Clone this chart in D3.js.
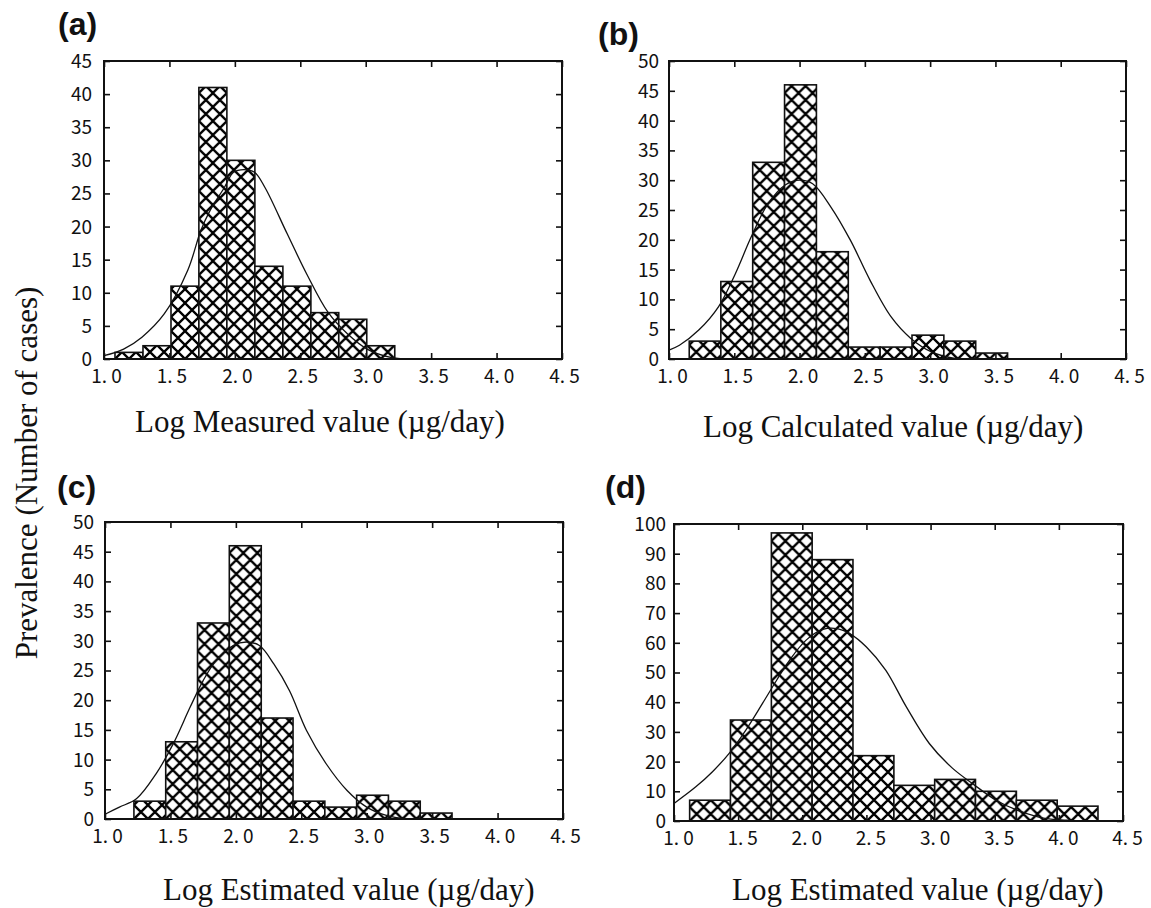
<!DOCTYPE html>
<html><head><meta charset="utf-8">
<script src="https://cdn.jsdelivr.net/npm/d3@7"></script>
<style>body{margin:0;background:#fff} svg{display:block}</style>
</head><body>
<svg id="chart" width="1151" height="908"></svg>
<script>
// ---------- data ----------
const xTicks = [1.0, 1.5, 2.0, 2.5, 3.0, 3.5, 4.0, 4.5];

const edgesA  = [1.084, 1.298, 1.512, 1.725, 1.939, 2.153, 2.367, 2.581, 2.794, 3.008, 3.222];
const countsA = [1, 2, 11, 41, 30, 14, 11, 7, 6, 2];
const curveA  = [[1.0,0.5],[1.15,1.5],[1.29,3.3],[1.46,6.8],[1.64,13.4],[1.74,19.4],[1.81,22.4],[1.92,25.9],[1.99,28.2],[2.07,28.6],[2.15,28.2],[2.23,25.9],[2.40,18.9],[2.55,12.8],[2.71,7.1],[2.86,3.8],[3.01,1.5],[3.19,0.25],[3.32,0]];
const yTicksA = [0, 5, 10, 15, 20, 25, 30, 35, 40, 45];

const edgesB  = [1.155, 1.397, 1.641, 1.885, 2.129, 2.373, 2.617, 2.861, 3.105, 3.349, 3.593];
const countsB = [3, 13, 33, 46, 18, 2, 2, 4, 3, 1];
const curveB  = [[1.0,1.5],[1.08,2.3],[1.23,4.9],[1.38,8.8],[1.51,14.4],[1.63,20.5],[1.76,26.1],[1.89,29.2],[2.0,30.0],[2.1,29.4],[2.24,25.5],[2.39,19.9],[2.54,13.2],[2.70,7.1],[2.85,3.5],[3.01,1.2],[3.19,0.1],[3.37,0]];
const yTicksB = [0, 5, 10, 15, 20, 25, 30, 35, 40, 45, 50];

const edgesC  = [1.221, 1.464, 1.707, 1.950, 2.194, 2.437, 2.680, 2.923, 3.166, 3.409, 3.652];
const countsC = [3, 13, 33, 46, 17, 3, 2, 4, 3, 1];
const curveC  = [[1.0,0.8],[1.11,2.0],[1.24,3.4],[1.39,7.6],[1.52,12.6],[1.65,18.8],[1.75,23.3],[1.85,26.7],[1.98,29.2],[2.08,29.8],[2.18,29.2],[2.29,26.1],[2.41,21.6],[2.54,14.9],[2.69,9.3],[2.85,4.8],[3.0,2.0],[3.15,0.6],[3.30,0.05],[3.43,0]];
const yTicksC = [0, 5, 10, 15, 20, 25, 30, 35, 40, 45, 50];

const edgesD  = [1.122, 1.440, 1.759, 2.077, 2.395, 2.714, 3.032, 3.350, 3.669, 3.987, 4.305];
const countsD = [7, 34, 97, 88, 22, 12, 14, 10, 7, 5];
const curveD  = [[1.0,5.9],[1.17,11.5],[1.30,16.6],[1.43,22.8],[1.56,30.6],[1.69,39.6],[1.80,47.4],[1.90,54.1],[2.03,60.9],[2.16,64.5],[2.27,64.8],[2.37,63.1],[2.50,58.6],[2.65,50.8],[2.81,38.5],[2.99,26.1],[3.17,17.8],[3.33,12.5],[3.51,7.0],[3.69,3.4],[3.88,1.0],[4.06,0.3],[4.21,0]];
const yTicksD = [0, 10, 20, 30, 40, 50, 60, 70, 80, 90, 100];

const panelLabels = ["(a)", "(b)", "(c)", "(d)"];
const xTitles = ["Log Measured value (\u00b5g/day)", "Log Calculated value (\u00b5g/day)",
                 "Log Estimated value (\u00b5g/day)", "Log Estimated value (\u00b5g/day)"];
const yTitle = "Prevalence (Number of cases)";

// ---------- layout ----------
const panels = [
  {edges: edgesA, counts: countsA, curve: curveA, yTicks: yTicksA,
   box: {l:104, r:562, t:61, b:359}, lab:[58,35], tit:[135,432], gap:12, xdx:2},
  {edges: edgesB, counts: countsB, curve: curveB, yTicks: yTicksB,
   box: {l:669, r:1126, t:61, b:359}, lab:[598,45], tit:[703,437], gap:10, xdx:3},
  {edges: edgesC, counts: countsC, curve: curveC, yTicks: yTicksC,
   box: {l:105, r:563, t:522, b:819}, lab:[57,498], tit:[163,900], gap:11, xdx:2},
  {edges: edgesD, counts: countsD, curve: curveD, yTicks: yTicksD,
   box: {l:674, r:1123, t:524, b:821}, lab:[605,498], tit:[732,900], gap:8, xdx:4}
];

const svg = d3.select("#chart");
const defs = svg.append("defs");
const S = 14;
const tickFont = "'Liberation Sans Narrow', 'Noto Sans CJK JP', sans-serif";

panels.forEach((p, pi) => {
  const B = p.box;
  const x = d3.scaleLinear().domain([1.0, 4.5]).range([B.l, B.r]);
  const yMax = p.yTicks[p.yTicks.length - 1];
  const y = d3.scaleLinear().domain([0, yMax]).range([B.b, B.t]);
  const g = svg.append("g");

  const bins = p.counts.map((c, i) => ({x0: p.edges[i], x1: p.edges[i + 1], c, id: `h${pi}_${i}`}));

  // hatch patterns (aligned to each bar)
  const pats = defs.selectAll(null).data(bins).join("pattern")
    .attr("id", d => d.id)
    .attr("patternUnits", "userSpaceOnUse")
    .attr("x", d => x(d.x0)).attr("y", y(0))
    .attr("width", S).attr("height", S);
  pats.append("rect").attr("width", S).attr("height", S).attr("fill", "#fff");
  pats.append("path")
    .attr("d", `M0,0L${S},${S}M0,${S}L${S},0`)
    .attr("stroke", "#000").attr("stroke-width", 2.3).attr("fill", "none");

  g.selectAll("rect.bar").data(bins).join("rect")
    .attr("class", "bar")
    .attr("x", d => x(d.x0)).attr("y", d => y(d.c))
    .attr("width", d => x(d.x1) - x(d.x0))
    .attr("height", d => y(0) - y(d.c))
    .attr("fill", d => `url(#${d.id})`)
    .attr("stroke", "#111").attr("stroke-width", 1.6);

  // fitted curve
  g.append("path").datum(p.curve)
    .attr("d", d3.line().x(d => x(d[0])).y(d => y(d[1])).curve(d3.curveCatmullRom))
    .attr("fill", "none").attr("stroke", "#111").attr("stroke-width", 1.3);

  // axes (ticks inward on all four sides)
  const styleAxis = sel => {
    sel.select(".domain").remove();
    sel.selectAll(".tick line").attr("stroke", "#111").attr("stroke-width", 1.6);
  };
  g.append("g").attr("transform", `translate(0,${B.b})`)
    .call(d3.axisBottom(x).tickValues(xTicks).tickSizeInner(-6).tickSizeOuter(0).tickFormat(d3.format(".1f")))
    .call(styleAxis)
    .call(a => a.selectAll("text")
      .attr("y", 24).attr("dy", 0).attr("dx", p.xdx)
      .attr("font-family", tickFont).attr("font-size", 19).attr("fill", "#111")
      .each(function(d) {
        const s = d3.format(".1f")(d);
        const t = d3.select(this);
        t.text(s.slice(0, 2));
        t.append("tspan").attr("dx", 4).text(s.slice(2));
      }));
  g.append("g").attr("transform", `translate(0,${B.t})`)
    .call(d3.axisTop(x).tickValues(xTicks).tickSizeInner(-6).tickSizeOuter(0).tickFormat(""))
    .call(styleAxis);
  g.append("g").attr("transform", `translate(${B.l},0)`)
    .call(d3.axisLeft(y).tickValues(p.yTicks).tickSizeInner(-6).tickSizeOuter(0).tickFormat(d3.format("d")))
    .call(styleAxis)
    .call(a => a.selectAll("text")
      .attr("x", -p.gap).attr("dy", "0.34em")
      .attr("font-family", tickFont).attr("font-size", 19).attr("fill", "#111"));
  g.append("g").attr("transform", `translate(${B.r},0)`)
    .call(d3.axisRight(y).tickValues(p.yTicks).tickSizeInner(-6).tickSizeOuter(0).tickFormat(""))
    .call(styleAxis);

  // frame
  g.append("rect").attr("x", B.l).attr("y", B.t)
    .attr("width", B.r - B.l).attr("height", B.b - B.t)
    .attr("fill", "none").attr("stroke", "#111").attr("stroke-width", 2);

  // panel label
  svg.append("text").attr("x", p.lab[0]).attr("y", p.lab[1])
    .attr("font-family", "'Liberation Sans', Arial, sans-serif").attr("font-weight", "bold")
    .attr("font-size", 32).attr("fill", "#111").text(panelLabels[pi]);

  // x title
  svg.append("text").attr("x", p.tit[0]).attr("y", p.tit[1])
    .attr("font-family", "'Liberation Serif', 'Times New Roman', serif")
    .attr("font-size", 31).attr("fill", "#111").text(xTitles[pi]);
});

svg.append("text")
  .attr("transform", "translate(37,473) rotate(-90)")
  .attr("text-anchor", "middle")
  .attr("font-family", "'Liberation Serif', 'Times New Roman', serif")
  .attr("font-size", 31).attr("fill", "#111").text(yTitle);
</script>
</body></html>
